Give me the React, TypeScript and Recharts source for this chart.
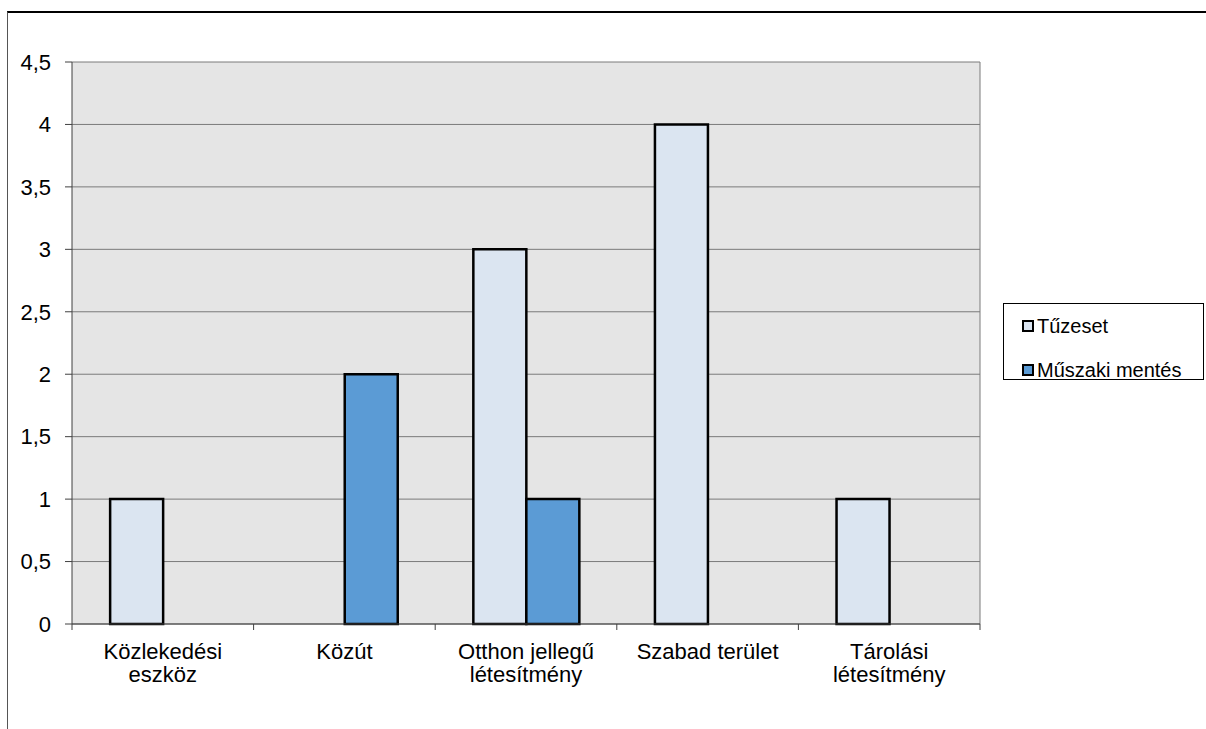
import React from "react";
import {
  Bar,
  BarChart,
  CartesianGrid,
  Legend,
  XAxis,
  YAxis,
} from "recharts";

const categories = [
  "Közlekedési eszköz",
  "Közút",
  "Otthon jellegű létesítmény",
  "Szabad terület",
  "Tárolási létesítmény",
];
const tickLabels = [
  ["Közlekedési", "eszköz"],
  ["Közút"],
  ["Otthon jellegű", "létesítmény"],
  ["Szabad terület"],
  ["Tárolási", "létesítmény"],
];
const seriesNames = ["Tűzeset", "Műszaki mentés"];
const tuzeset = [1, 0, 3, 4, 1];
const muszaki = [0, 2, 1, 0, 0];
const yTicks = [0, 0.5, 1, 1.5, 2, 2.5, 3, 3.5, 4, 4.5];

const data = categories.map((name, i) => ({
  name,
  tuzeset: tuzeset[i],
  muszaki: muszaki[i],
}));

const FONT = "'Liberation Sans', Arial, sans-serif";
const AXIS = "#404040";

function CategoryTick(props: any) {
  const { x, payload, index } = props;
  const axisY = 624;
  const half = payload.offset ?? 0;
  const lines = tickLabels[index] ?? [String(payload.value)];
  return (
    <g>
      <line x1={x + half} x2={x + half} y1={axisY} y2={axisY + 6} stroke={AXIS} />
      {index === 0 && (
        <line x1={x - half} x2={x - half} y1={axisY} y2={axisY + 6} stroke={AXIS} />
      )}
      <text
        x={x}
        y={axisY}
        textAnchor="middle"
        fontSize={22}
        fontFamily={FONT}
        fill="#000"
      >
        {lines.map((l, i) => (
          <tspan key={i} x={x} dy={i === 0 ? 35 : 23}>
            {l}
          </tspan>
        ))}
      </text>
    </g>
  );
}

function LegendBox({ payload }: any) {
  const items = seriesNames
    .map((n) => (payload ?? []).find((p: any) => p.value === n))
    .filter(Boolean);
  return (
    <div
      style={{
        border: "1px solid #000",
        background: "#fff",
        boxSizing: "border-box",
        width: 201,
        height: 77,
        paddingLeft: 18,
        fontFamily: FONT,
        fontSize: 20,
        color: "#000",
      }}
    >
      {items.map((p: any) => (
        <div
          key={p.value}
          style={{ display: "flex", alignItems: "center", height: 44 }}
        >
          <span
            style={{
              display: "inline-block",
              width: 12,
              height: 12,
              border: "2px solid #000",
              background: p.color,
              boxSizing: "border-box",
              marginRight: 3,
            }}
          />
          <span>{p.value}</span>
        </div>
      ))}
    </div>
  );
}

export default function App() {
  return (
    <div
      style={{
        position: "fixed",
        left: 0,
        top: 0,
        width: 1206,
        height: 729,
        overflow: "hidden",
        background: "#fff",
      }}
    >
      <div
        style={{
          position: "absolute",
          left: 7,
          top: 11,
          width: 1400,
          height: 900,
          borderTop: "2px solid #000",
          borderLeft: "1px solid #555",
        }}
      />
      <div style={{ position: "absolute", left: 0, top: 0 }}>
        <BarChart
          width={1206}
          height={729}
          data={data}
          margin={{ top: 62, right: 226, left: 12, bottom: 45 }}
          barCategoryGap="21%"
          barGap={0}
        >
          <CartesianGrid
            fill="#e5e5e5"
            fillOpacity={1}
            stroke="#7a7a7a"
            strokeWidth={1}
            verticalCoordinatesGenerator={({ offset }: any) => [
              offset.left + offset.width,
            ]}
          />
          <XAxis
            dataKey="name"
            tick={<CategoryTick />}
            tickLine={false}
            axisLine={{ stroke: AXIS }}
            interval={0}
            height={60}
          />
          <YAxis
            domain={[0, 4.5]}
            ticks={yTicks}
            width={60}
            tickSize={7}
            tickMargin={14}
            axisLine={{ stroke: AXIS }}
            tickLine={{ stroke: AXIS }}
            tick={{ fill: "#000", fontSize: 22, fontFamily: FONT }}
            tickFormatter={(v: number) => String(v).replace(".", ",")}
            interval={0}
          />
          <Legend
            layout="vertical"
            align="center"
            verticalAlign="middle"
            wrapperStyle={{ left: 1003, top: 303, width: 201, height: 77 }}
            content={<LegendBox />}
          />
          <Bar
            dataKey="tuzeset"
            name={seriesNames[0]}
            fill="#dbe5f1"
            stroke="#000"
            strokeWidth={2.5}
            isAnimationActive={false}
          />
          <Bar
            dataKey="muszaki"
            name={seriesNames[1]}
            fill="#5b9bd5"
            stroke="#000"
            strokeWidth={2.5}
            isAnimationActive={false}
          />
        </BarChart>
      </div>
    </div>
  );
}
